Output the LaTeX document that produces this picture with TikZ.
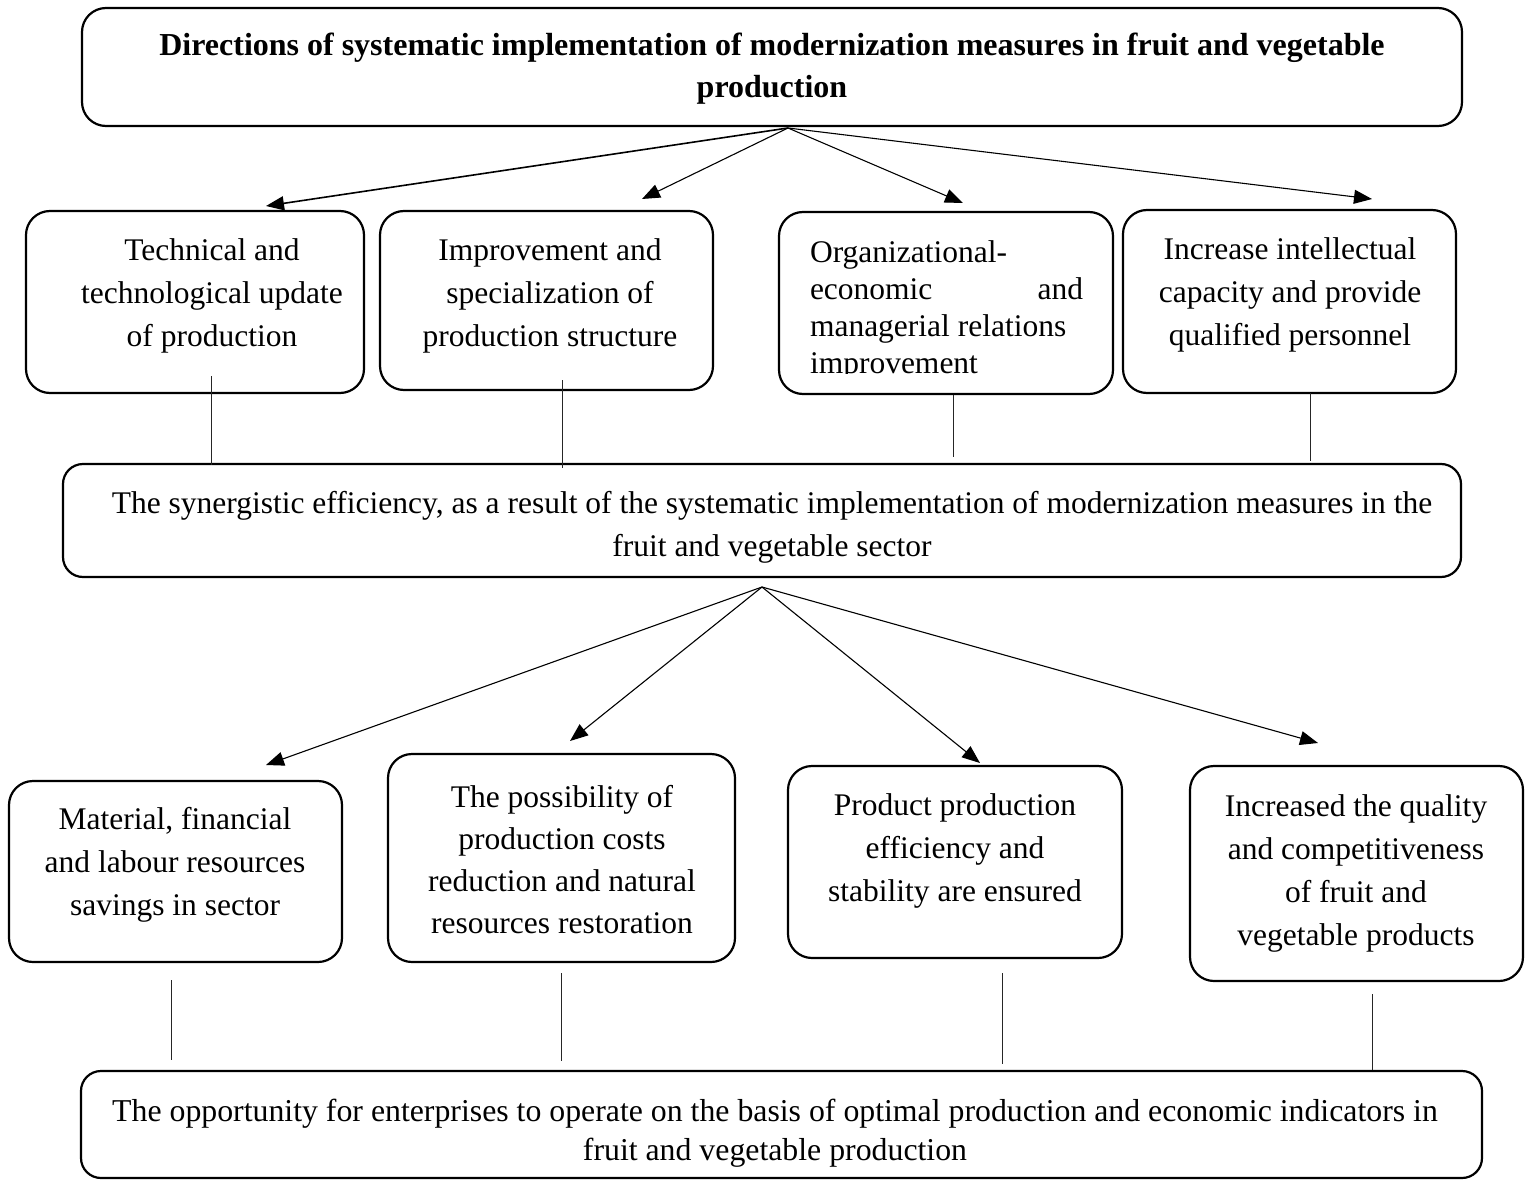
\documentclass[tikz,border=0pt]{standalone}
\usepackage{fontspec}
\setmainfont{Liberation Serif}
\usetikzlibrary{arrows.meta}
\begin{document}
\begin{tikzpicture}[x=1pt,y=-1pt,
  box/.style={draw=black, line width=2.2pt, rounded corners=24pt, inner sep=0pt},
  txt/.style={inner sep=0pt, align=center, font=\fontsize{31.5}{43}\selectfont},
  ttl/.style={inner sep=0pt, align=center, font=\fontsize{32}{42}\selectfont\bfseries},
  arr/.style={draw=black, line width=1.1pt, -{Triangle[length=18pt,width=14pt]}},
  vline/.style={draw=black!85, line width=1pt}
]
\useasboundingbox (0,0) rectangle (1526,1180);
\fill[white] (0,0) rectangle (1526,1180);

% boxes
\node[box, minimum width=1380pt, minimum height=118pt] (top) at (772,67) {};
\node[box, minimum width=338pt, minimum height=182pt] (b1) at (195,302) {};
\node[box, minimum width=333pt, minimum height=179pt] (b2) at (546.5,300.5) {};
\node[box, minimum width=334pt, minimum height=182pt] (b3) at (946,303) {};
\node[box, minimum width=333pt, minimum height=183pt] (b4) at (1289.5,301.5) {};
\node[box, rounded corners=20pt, minimum width=1398pt, minimum height=113pt] (mid) at (762,520.5) {};
\node[box, minimum width=333pt, minimum height=181pt] (ba) at (175.5,871.5) {};
\node[box, minimum width=347pt, minimum height=208pt] (bb) at (561.5,858) {};
\node[box, minimum width=334pt, minimum height=192pt] (bc) at (955,862) {};
\node[box, minimum width=333pt, minimum height=215pt] (bd) at (1356.5,873.5) {};
\node[box, rounded corners=20pt, minimum width=1401pt, minimum height=107pt] (bot) at (781.5,1124.5) {};

% texts
\node[ttl] (ttitle) at (772,69) {Directions of systematic implementation of modernization measures in fruit and vegetable\\production};
\node[txt] (t1) at (212,296) {Technical and\\technological update\\of production};
\node[txt] (t2) at (550,295.5) {Improvement and\\specialization of\\production structure};
\begin{scope}
\clip (779,212) rectangle (1113,373);
\node[txt, align=left, font=\fontsize{31.5}{37}\selectfont] (t3) at (946.5,310.5) {Organizational-\\\hbox to 273pt{economic\hfill and}\\managerial relations\\improvement};
\end{scope}
\node[txt] (t4) at (1290,295) {Increase intellectual\\capacity and provide\\qualified personnel};
\node[txt] (tmid) at (772,527.5) {The synergistic efficiency, as a result of the systematic implementation of modernization measures in the\\fruit and vegetable sector};
\node[txt] (ta) at (175,865) {Material, financial\\and labour resources\\savings in sector};
\node[txt, font=\fontsize{31.5}{42}\selectfont] (tb) at (562,859.5) {The possibility of\\production costs\\reduction and natural\\resources restoration};
\node[txt] (tc) at (955,851) {Product production\\efficiency and\\stability are ensured};
\node[txt] (td) at (1356,873) {Increased the quality\\and competitiveness\\of fruit and\\vegetable products};
\node[txt, font=\fontsize{31.8}{39}\selectfont] (tbot) at (775,1133.5) {The opportunity for enterprises to operate on the basis of optimal production and economic indicators in\\fruit and vegetable production};

% arrow coordinates
\coordinate (apexA) at (788,128);
\coordinate (tip1) at (266,206);
\coordinate (tip2) at (642,199);
\coordinate (tip3) at (963,203);
\coordinate (tip4) at (1372,199);
\coordinate (apexB) at (762,587);
\coordinate (tipa) at (266,765);
\coordinate (tipb) at (570,741);
\coordinate (tipc) at (980,763);
\coordinate (tipd) at (1318,743);

\draw[arr, line width=1.6pt] (apexA) -- (tip1);
\draw[arr] (apexA) -- (tip2);
\draw[arr] (apexA) -- (tip3);
\draw[arr] (apexA) -- (tip4);
\draw[arr] (apexB) -- (tipa);
\draw[arr] (apexB) -- (tipb);
\draw[arr] (apexB) -- (tipc);
\draw[arr] (apexB) -- (tipd);

% vertical connectors
\coordinate (v1a) at (211,376); \coordinate (v1b) at (211,465);
\coordinate (v2a) at (562,380); \coordinate (v2b) at (562,468);
\coordinate (v3a) at (953,395); \coordinate (v3b) at (953,457);
\coordinate (v4a) at (1310,393); \coordinate (v4b) at (1310,461);
\coordinate (v5a) at (171,980); \coordinate (v5b) at (171,1060);
\coordinate (v6a) at (561,973); \coordinate (v6b) at (561,1061);
\coordinate (v7a) at (1002,973); \coordinate (v7b) at (1002,1064);
\coordinate (v8a) at (1372,994); \coordinate (v8b) at (1372,1070);
\draw[vline] (v1a) -- (v1b);
\draw[vline] (v2a) -- (v2b);
\draw[vline] (v3a) -- (v3b);
\draw[vline] (v4a) -- (v4b);
\draw[vline] (v5a) -- (v5b);
\draw[vline] (v6a) -- (v6b);
\draw[vline] (v7a) -- (v7b);
\draw[vline] (v8a) -- (v8b);
\end{tikzpicture}
\end{document}
